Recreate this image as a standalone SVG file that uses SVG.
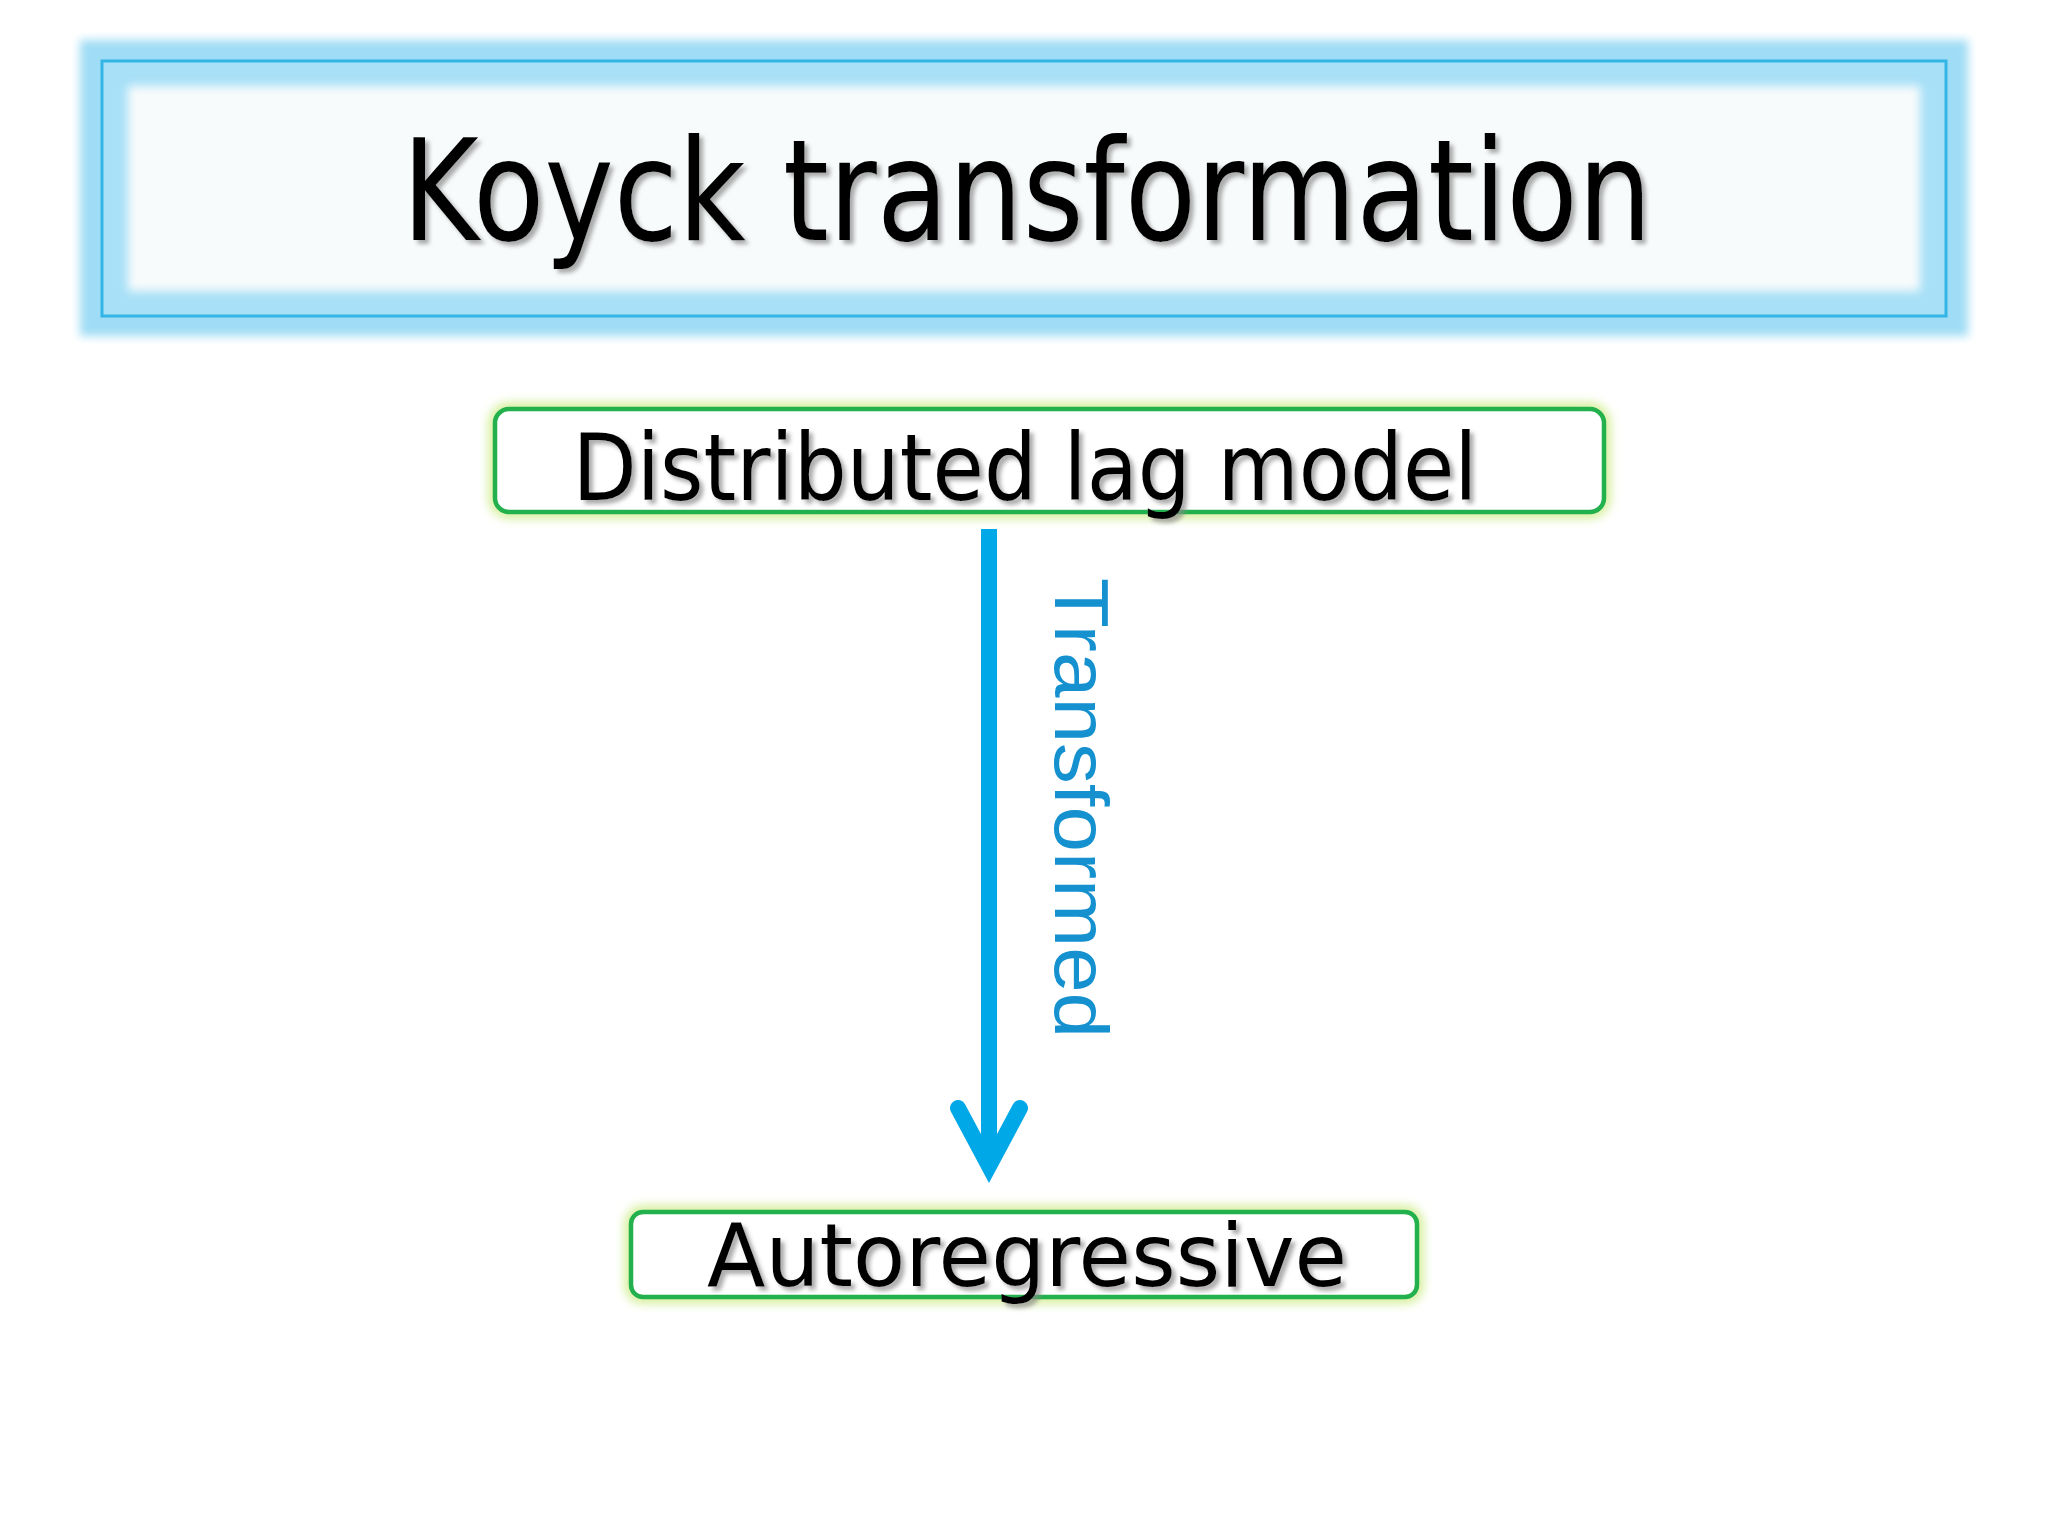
<svg xmlns="http://www.w3.org/2000/svg" width="2048" height="1536" viewBox="0 0 2048 1536">
<defs>
<style>
.t{font-family:"DejaVu Sans","Liberation Sans",sans-serif;fill:#000;text-anchor:middle}
.node{fill:#fff;stroke:#22b14c;stroke-width:4.5}
.ng{fill:none;stroke:#d8f0a0;stroke-width:14}
</style>
<filter id="sh" x="-5%" y="-20%" width="110%" height="140%"><feDropShadow dx="4" dy="4" stdDeviation="2" flood-color="#888" flood-opacity="0.7"/></filter>
<filter id="glow" x="-10%" y="-30%" width="120%" height="160%"><feGaussianBlur stdDeviation="5"/></filter>
</defs>
<rect width="2048" height="1536" fill="#fff"/>
<g id="title">
<rect x="80" y="40" width="1888" height="296" fill="#9fdcf5" filter="url(#glow)"/>
<rect x="102" y="61" width="1844" height="255" fill="#a8e0f7" stroke="#33b5e5" stroke-width="3"/>
<rect x="128" y="86" width="1792" height="205" fill="#f8fbfc" filter="url(#glow)"/>
<text class="t" x="1027" y="240" font-size="140" textLength="1250" lengthAdjust="spacingAndGlyphs" filter="url(#sh)">Koyck transformation</text>
</g>
<g id="node-dlm">
<rect class="ng" x="495" y="409" width="1109" height="103" rx="14" filter="url(#glow)"/>
<rect class="node" x="495" y="409" width="1109" height="103" rx="14"/>
<text class="t" x="1025" y="500" font-size="92" textLength="905" lengthAdjust="spacingAndGlyphs" filter="url(#sh)">Distributed lag model</text>
</g>
<g id="node-ar">
<rect class="ng" x="631" y="1212" width="786" height="85" rx="12" filter="url(#glow)"/>
<rect class="node" x="631" y="1212" width="786" height="85" rx="12"/>
<text class="t" x="1027" y="1286" font-size="88" textLength="640" lengthAdjust="spacingAndGlyphs" filter="url(#sh)">Autoregressive</text>
</g>
<g id="connectors">
<line x1="989" y1="529" x2="989" y2="1168" stroke="#00a8e8" stroke-width="16"/>
<polyline points="958,1108 989,1166 1020,1108" fill="none" stroke="#00a8e8" stroke-width="16" stroke-linecap="round" stroke-linejoin="miter"/>
<text x="1081" y="808" transform="rotate(90 1081 808)" font-family="Liberation Sans, sans-serif" font-size="76" fill="#1591d0" text-anchor="middle" dominant-baseline="central" textLength="460" lengthAdjust="spacingAndGlyphs">Transformed</text>
</g>
</svg>
